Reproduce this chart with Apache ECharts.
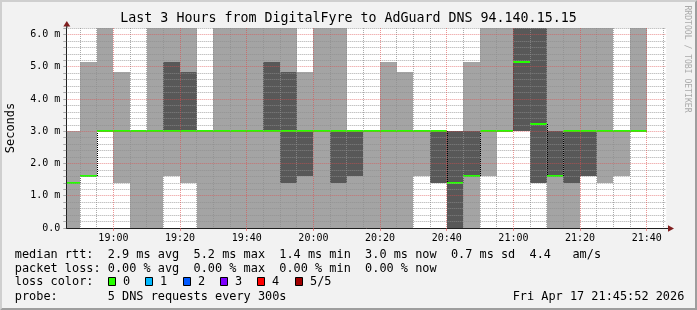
<!DOCTYPE html>
<html><head><meta charset="utf-8">
<script src="https://cdn.jsdelivr.net/npm/echarts@6/dist/echarts.min.js"></script>
<style>html,body{margin:0;padding:0;background:#f2f2f2}#c{width:697px;height:310px}</style>
</head><body><div id="c"></div>
<script>
// ---------------- data ----------------
const chartTitle = 'Last 3 Hours from DigitalFyre to AdGuard DNS 94.140.15.15';
const rangeStart = '18:45:52';
const rangeEnd = '21:45:52';
const stepMinutes = 5;
// start time of each 5-minute sample column
const colStart = ['18:45','18:50','18:55','19:00','19:05','19:10','19:15','19:20','19:25','19:30',
  '19:35','19:40','19:45','19:50','19:55','20:00','20:05','20:10','20:15','20:20',
  '20:25','20:30','20:35','20:40','20:45','20:50','20:55','21:00','21:05','21:10',
  '21:15','21:20','21:25','21:30','21:35'];
// smoke (ms): outer band lowest..highest ping, inner band 2nd..4th ping, median
const smokeMin = [0,1.62,3.0,1.38,0,0,1.62,1.38,0,0, 0,0,0,0,0,0,0,0,0,0, 0,1.62,1.38,0,0,1.62,3.0,3.0,1.38,0, 0,1.62,1.38,1.62,3.0];
const smokeMax = [3.0,5.16,6.2,4.84,3.0,6.2,6.2,6.2,3.0,6.2, 6.2,6.2,6.2,6.2,4.84,6.2,6.2,3.0,3.0,5.16, 4.84,3.0,3.0,3.0,5.16,6.2,6.2,6.2,6.2,6.2, 6.2,6.2,6.2,3.0,6.2];
const innerLo = [1.38,1.62,3.0,3.0,3.0,3.0,3.0,3.0,3.0,3.0, 3.0,3.0,3.0,1.38,1.62,3.0,1.38,1.62,3.0,3.0, 3.0,3.0,1.38,0,1.62,3.0,3.0,3.0,1.38,1.62, 1.38,1.62,3.0,3.0,3.0];
const innerHi = [1.38,1.62,3.0,3.0,3.0,3.0,5.16,4.84,3.0,3.0, 3.0,3.0,5.16,4.84,3.0,3.0,3.0,3.0,3.0,3.0, 3.0,3.0,3.0,3.0,3.0,3.0,3.0,6.2,6.2,3.0, 3.0,3.0,3.0,3.0,3.0];
const medianRtt = [1.38,1.62,3.0,3.0,3.0,3.0,3.0,3.0,3.0,3.0, 3.0,3.0,3.0,3.0,3.0,3.0,3.0,3.0,3.0,3.0, 3.0,3.0,3.0,1.38,1.62,3.0,3.0,5.16,3.23,1.62, 3.0,3.0,3.0,3.0,3.0];
// axis ticks
const majorTimeTicks = ['19:00','19:20','19:40','20:00','20:20','20:40','21:00','21:20','21:40'];
const minorTimeTicks = ['18:50','18:55','19:05','19:10','19:15','19:25','19:30','19:35','19:45','19:50','19:55',
  '20:05','20:10','20:15','20:25','20:30','20:35','20:45','20:50','20:55','21:05','21:10','21:15',
  '21:25','21:30','21:35','21:45'];
const yMax = 6.2, yStep = 0.2;
// legend texts
const legendLines = [
  'median rtt:  2.9 ms avg  5.2 ms max  1.4 ms min  3.0 ms now  0.7 ms sd  4.4   am/s',
  'packet loss: 0.00 % avg  0.00 % max  0.00 % min  0.00 % now',
  'loss color:',
  'probe:       5 DNS requests every 300s'
];
const lossLabels = ['0','1','2','3','4','5/5'];
const lossColors = ['#26ff00','#00b8ff','#0059ff','#7e00ff','#ff0000','#a10000'];
const dateText = 'Fri Apr 17 21:45:52 2026';
const yAxisName = 'Seconds';
const watermark = 'RRDTOOL / TOBI OETIKER';

// ---------------- helpers ----------------
function toMin(s){const p=s.split(':').map(Number);return p[0]*60+p[1]+(p[2]||0)/60;}
function fmtTime(v){const h=Math.floor(v/60+1e-6),m=Math.round(v-h*60);return String(h).padStart(2,'0')+':'+String(m).padStart(2,'0');}
const MONO = 'DejaVu Sans Mono';
const xMin = toMin(rangeStart), xMax = toMin(rangeEnd);
const GL = 66.3, GT = 28, GW = 600, GH = 200;
const GRID_MINOR = 'rgba(143,143,143,0.75)';
const GRID_MAJOR = 'rgba(222,79,79,0.6)';

function clipRect(cs,x0,y0,x1,y1){
  x0=Math.max(x0,cs.x);x1=Math.min(x1,cs.x+cs.width);
  y0=Math.max(y0,cs.y);y1=Math.min(y1,cs.y+cs.height);
  if(x1<=x0||y1<=y0)return null;
  return {x:x0,y:y0,width:x1-x0,height:y1-y0};
}
function bandSeries(lo,hi,color,z){
  return {type:'custom',z:z,silent:true,animation:false,
    dimensions:['t0','t1','lo','hi'],encode:{x:[0,1],y:[2,3]},
    data:colStart.map((t,i)=>[toMin(t),toMin(t)+stepMinutes,lo[i],hi[i]]),
    renderItem(params,api){
      if(api.value(3)<=api.value(2))return null;
      const a=api.coord([api.value(0),api.value(3)]);
      const b=api.coord([api.value(1),api.value(2)]);
      const r=clipRect(params.coordSys,Math.round(a[0]),Math.round(a[1]),Math.round(b[0]),Math.round(b[1]));
      if(!r)return null;
      return {type:'rect',shape:r,style:{fill:color}};
    }};
}
const medianSeries = {type:'custom',z:3,silent:true,animation:false,
  dimensions:['t0','t1','med'],encode:{x:[0,1],y:2},
  data:colStart.map((t,i)=>[toMin(t),toMin(t)+stepMinutes,medianRtt[i]]),
  renderItem(params,api){
    const a=api.coord([api.value(0),api.value(2)]);
    const b=api.coord([api.value(1),api.value(2)]);
    const y=Math.round(a[1]);
    const r=clipRect(params.coordSys,Math.round(a[0]),y-1,Math.round(b[0]),y+1);
    if(!r)return null;
    return {type:'rect',shape:r,style:{fill:lossColors[0]}};
  }};
const connectorSeries = {type:'custom',z:2.5,silent:true,animation:false,
  dimensions:['t','from','to'],encode:{x:0,y:[1,2]},
  data:colStart.map((t,i)=>i===0?[toMin(t),medianRtt[0],medianRtt[0]]:[toMin(t),medianRtt[i-1],medianRtt[i]]),
  renderItem(params,api){
    if(api.value(1)===api.value(2))return null;
    const a=api.coord([api.value(0),api.value(1)]);
    const b=api.coord([api.value(0),api.value(2)]);
    const x=Math.round(a[0])+0.5;
    return {type:'line',shape:{x1:x,y1:Math.round(a[1]),x2:x,y2:Math.round(b[1])},
      style:{stroke:'#000',lineWidth:1,lineDash:[1,1]}};
  }};

// ---------------- graphics (frame & texts) ----------------
const W=697,H=310;
const gfx=[
  {type:'polygon',shape:{points:[[0,0],[0,H],[2,H-2],[2,2],[W-2,2],[W,0]]},style:{fill:'#cfcfcf'},z:0},
  {type:'polygon',shape:{points:[[W,H],[W,0],[W-2,2],[W-2,H-2],[2,H-2],[0,H]]},style:{fill:'#9e9e9e'},z:0},
  {type:'text',x:348.5,y:19,style:{text:chartTitle,font:'13.3px "'+MONO+'"',fill:'#000',align:'center',verticalAlign:'middle'}},
  {type:'text',x:11,y:128,rotation:Math.PI/2,style:{text:yAxisName,font:'12px "'+MONO+'"',fill:'#000',align:'center',verticalAlign:'middle'}},
  {type:'text',x:687,y:59,rotation:-Math.PI/2,style:{text:watermark,font:'8.1px "'+MONO+'"',fill:'#aaaaaa',align:'center',verticalAlign:'middle'}},
  // axis arrows
  {type:'polygon',shape:{points:[[63.3,26.5],[66.8,21],[70.3,26.5]]},style:{fill:'#801f1f'},z:10},
  {type:'line',shape:{x1:66.8,y1:26,x2:66.8,y2:28},style:{stroke:'#1f1f1f',lineWidth:1},z:10},
  {type:'line',shape:{x1:666,y1:228.5,x2:669,y2:228.5},style:{stroke:'#1f1f1f',lineWidth:1},z:10},
  {type:'polygon',shape:{points:[[668,225.3],[674,228.5],[668,231.7]]},style:{fill:'#801f1f'},z:10},
  {type:'text',x:512.7,y:296.5,style:{text:dateText,font:'11.88px "'+MONO+'"',fill:'#000',align:'left',verticalAlign:'middle'}}
];
const lineY=[254.5,268.5,282.3,296.5];
legendLines.forEach((t,i)=>gfx.push({type:'text',x:14.8,y:lineY[i],style:{text:t,font:'11.88px "'+MONO+'"',fill:'#000',align:'left',verticalAlign:'middle'}}));
lossLabels.forEach((t,i)=>{
  const bx=Math.round(108+i*37.3);
  gfx.push({type:'rect',shape:{x:bx+0.5,y:277.5,width:7,height:8},style:{fill:lossColors[i],stroke:'#000',lineWidth:1}});
  gfx.push({type:'text',x:bx+15,y:lineY[2],style:{text:t,font:'11.88px "'+MONO+'"',fill:'#000',align:'left',verticalAlign:'middle'}});
});

// ---------------- chart ----------------
const chart = echarts.init(document.getElementById('c'),null,{renderer:'canvas'});
const majorVals = majorTimeTicks.map(toMin), minorVals = minorTimeTicks.map(toMin);
const yLineColors=[GRID_MAJOR,GRID_MINOR,GRID_MINOR,GRID_MINOR,GRID_MINOR];
chart.setOption({
  animation:false,
  backgroundColor:'#f2f2f2',
  grid:{left:GL,top:GT,width:GW,height:GH,show:true,backgroundColor:'#ffffff',borderWidth:0,z:0},
  xAxis:[
    {type:'value',min:xMin,max:xMax,position:'bottom',z:6,
      axisLine:{show:true,onZero:false,lineStyle:{color:'#1f1f1f',width:1}},
      axisTick:{show:true,customValues:majorVals,length:3,lineStyle:{color:GRID_MAJOR}},
      axisLabel:{show:true,customValues:majorVals,formatter:fmtTime,fontFamily:MONO,fontSize:10,color:'#000',margin:5},
      splitLine:{show:true,lineStyle:{color:GRID_MAJOR,width:1,type:[1,1]}}},
    {type:'value',min:xMin,max:xMax,position:'bottom',z:5,
      axisLine:{show:false},
      axisTick:{show:false,customValues:minorVals},
      axisLabel:{show:false,customValues:minorVals},
      splitLine:{show:true,lineStyle:{color:GRID_MINOR,width:1,type:[1,1]}}}
  ],
  yAxis:{type:'value',min:0,max:yMax,interval:yStep,z:6,
    axisLine:{show:true,onZero:false,lineStyle:{color:'#1f1f1f',width:1}},
    axisTick:{show:true,length:3,lineStyle:{color:GRID_MINOR}},
    axisLabel:{show:true,fontFamily:MONO,fontSize:10,color:'#000',margin:6,
      formatter:v=>{const r=Math.round(v);if(Math.abs(v-r)>1e-6)return '';return r===0?'0.0':r.toFixed(1)+' m';}},
    splitLine:{show:true,lineStyle:{color:yLineColors,width:1,type:[1,1]}}},
  series:[
    bandSeries(smokeMin,smokeMax,'#a4a4a4',1),
    bandSeries(innerLo,innerHi,'#585858',2),
    connectorSeries,
    medianSeries
  ],
  graphic:{elements:gfx}
});
</script></body></html>
